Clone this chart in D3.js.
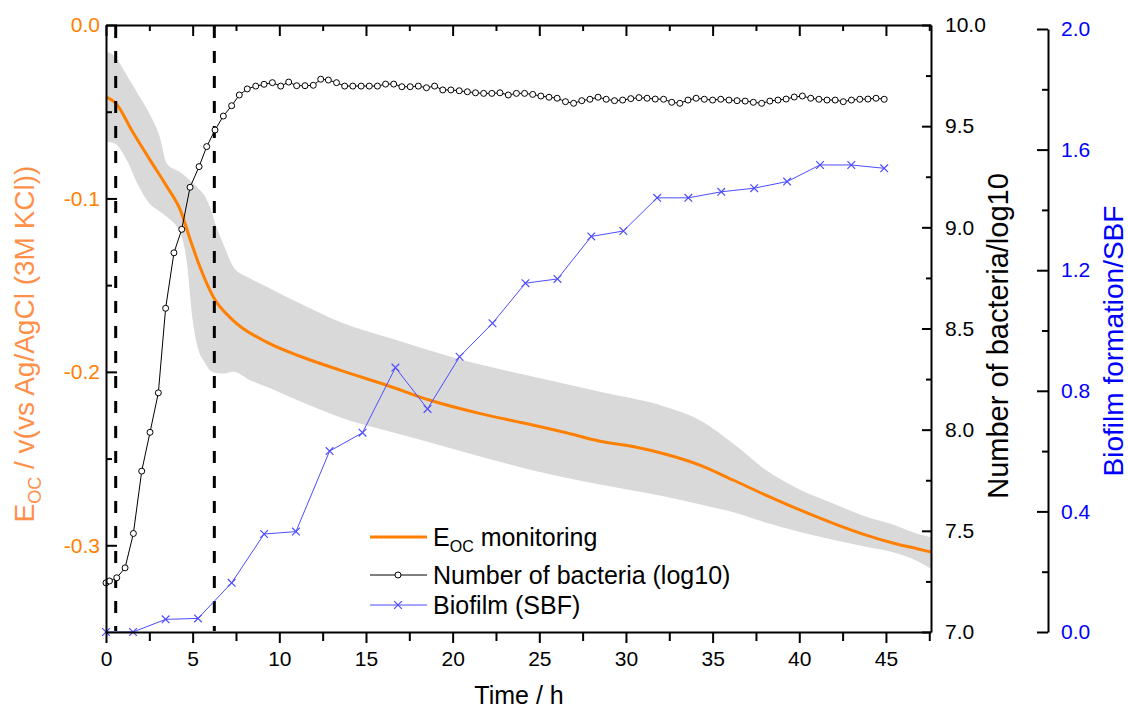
<!DOCTYPE html>
<html>
<head>
<meta charset="utf-8">
<script src="https://d3js.org/d3.v7.min.js"></script>
<style>
  body { margin: 0; background: #fff; }
  text { font-family: "Liberation Sans", Arial, sans-serif; }
</style>
</head>
<body>
<script>
// E_OC monitoring (mean curve) and its spread band
const eocTime = [0, 0.6, 1.5, 2.5, 3.5, 4.3, 4.9, 5.4, 6.2, 7.3, 9.3, 11.2, 13.5, 16.2, 18.7, 21.6,
    24.1, 26.5, 28.5, 30.4, 32.3, 34.3, 36.2, 38.1, 40.1, 42.0, 43.9, 45.4, 46.8, 47.6];
const eocMean = [-0.0414, -0.0455, -0.061, -0.0772, -0.093, -0.107, -0.125, -0.139, -0.157, -0.170,
    -0.183, -0.191, -0.199, -0.2077, -0.2164, -0.2241, -0.2295, -0.235, -0.240, -0.243, -0.2475,
    -0.2539, -0.2625, -0.2712, -0.2799, -0.2875, -0.2943, -0.2987, -0.302, -0.3039];

const bandTime = [0, 0.5, 1.2, 1.8, 2.5, 3.1, 3.5, 4.3, 4.65, 5.0, 5.4, 5.6, 6.0, 6.3, 6.8, 7.35, 8.3,
    9.3, 11.2, 13.5, 16.8, 20.6, 24.3, 28.5, 32.3, 34.3, 36.2, 38.1, 40.1, 42.0, 43.9, 45.4, 46.8, 47.6];
const bandUpper = [-0.0154, -0.018, -0.029, -0.039, -0.051, -0.0645, -0.0798, -0.085, -0.0878, -0.091,
    -0.095, -0.0971, -0.105, -0.1144, -0.127, -0.1395, -0.146, -0.151, -0.1606, -0.1712, -0.1818,
    -0.1933, -0.202, -0.2115, -0.2202, -0.228, -0.2414, -0.2568, -0.2683, -0.276, -0.2837, -0.288,
    -0.2933, -0.2953];
const bandLower = [-0.0673, -0.0683, -0.0779, -0.0913, -0.1029, -0.1075, -0.1106, -0.1202, -0.1356,
    -0.1702, -0.1894, -0.193, -0.1991, -0.2005, -0.201, -0.200, -0.2048, -0.2087, -0.217, -0.2262,
    -0.2356, -0.246, -0.256, -0.265, -0.272, -0.2765, -0.281, -0.287, -0.2925, -0.297, -0.301, -0.304,
    -0.309, -0.3135];

// Number of bacteria (log10)
const bacteriaTime = [0, 0.2, 0.62, 1.10, 1.58, 2.06, 2.54, 3.02, 3.44, 3.92, 4.37, 4.85, 5.37, 5.81,
    6.29, 6.77, 7.25, 7.69, 8.15, 8.64, 9.12, 9.60, 10.08, 10.54, 11.00, 11.48, 11.96, 12.39, 12.83,
    13.30, 13.77, 14.24, 14.72, 15.19, 15.66, 16.13, 16.60, 17.07, 17.55, 18.02, 18.49, 18.96, 19.43,
    19.90, 20.38, 20.85, 21.32, 21.79, 22.26, 22.73, 23.21, 23.68, 24.15, 24.62, 25.09, 25.56, 26.03,
    26.51, 26.98, 27.45, 27.92, 28.39, 28.86, 29.34, 29.81, 30.28, 30.75, 31.22, 31.69, 32.17, 32.64,
    33.11, 33.58, 34.05, 34.52, 35.00, 35.47, 35.94, 36.41, 36.88, 37.35, 37.83, 38.30, 38.77, 39.24,
    39.71, 40.18, 40.66, 41.13, 41.60, 42.07, 42.54, 43.01, 43.49, 43.96, 44.43, 44.90];
const bacteriaLog = [7.243, 7.252, 7.268, 7.317, 7.487, 7.795, 7.987, 8.182, 8.600, 8.874, 8.990,
    9.198, 9.300, 9.399, 9.481, 9.550, 9.601, 9.654, 9.684, 9.698, 9.707, 9.715, 9.698, 9.718, 9.700,
    9.700, 9.702, 9.732, 9.728, 9.715, 9.698, 9.698, 9.698, 9.698, 9.698, 9.708, 9.708, 9.695, 9.695,
    9.698, 9.690, 9.698, 9.679, 9.679, 9.675, 9.670, 9.665, 9.662, 9.662, 9.665, 9.654, 9.662, 9.662,
    9.657, 9.649, 9.643, 9.638, 9.621, 9.613, 9.626, 9.633, 9.643, 9.633, 9.626, 9.629, 9.636, 9.641,
    9.638, 9.634, 9.633, 9.618, 9.613, 9.629, 9.638, 9.633, 9.629, 9.633, 9.629, 9.626, 9.624, 9.618,
    9.613, 9.624, 9.629, 9.634, 9.644, 9.649, 9.638, 9.633, 9.629, 9.629, 9.621, 9.629, 9.633, 9.634,
    9.638, 9.633];

// Biofilm (SBF)
const biofilmTime = [0, 1.56, 3.44, 5.31, 7.25, 9.12, 10.96, 12.9, 14.8, 16.7, 18.55, 20.4, 22.3,
    24.2, 26.05, 28.0, 29.85, 31.8, 33.6, 35.5, 37.4, 39.3, 41.2, 43.0, 44.9];
const biofilmSBF = [0, 0, 0.042, 0.045, 0.163, 0.325, 0.333, 0.6, 0.661, 0.877, 0.74, 0.913, 1.024,
    1.157, 1.171, 1.312, 1.33, 1.44, 1.44, 1.46, 1.472, 1.494, 1.549, 1.549, 1.538];

// phase markers (h)
const phaseLines = [0.56, 6.25];

// ticks
const timeTicks = [0, 5, 10, 15, 20, 25, 30, 35, 40, 45];
const timeMinor = [2.5, 7.5, 12.5, 17.5, 22.5, 27.5, 32.5, 37.5, 42.5, 47.5];
const eocTicks = [0, -0.1, -0.2, -0.3];
const eocMinor = [-0.05, -0.15, -0.25];
const bacTicks = [7, 7.5, 8, 8.5, 9, 9.5, 10];
const bacMinor = [7.25, 7.75, 8.25, 8.75, 9.25, 9.75];
const sbfTicks = [0, 0.4, 0.8, 1.2, 1.6, 2.0];
const sbfMinor = [0.2, 0.6, 1.0, 1.4, 1.8];

const ORANGE = '#ff7f00';
const BLUE = '#0000ff';
const FONT = '"Liberation Sans", Arial, sans-serif';

const svg = d3.select('body')
    .append('svg')
    .attr('width', 1128)
    .attr('height', 716);

const x = d3.scaleLinear().domain([0, 47.6]).range([106, 931]);
const yE = d3.scaleLinear().domain([-0.35, 0]).range([632, 25]);
const yB = d3.scaleLinear().domain([7, 10]).range([632, 25]);
const yF = d3.scaleLinear().domain([0, 2]).range([632, 29]);

// grey spread band
const bandData = bandTime.map((t, i) => ({t: t, lo: bandLower[i], hi: bandUpper[i]}));
svg.append('path')
    .datum(bandData)
    .attr('fill', '#d9d9d9')
    .attr('d', d3.area()
        .curve(d3.curveMonotoneX)
        .x(d => x(d.t))
        .y0(d => yE(d.lo))
        .y1(d => yE(d.hi)));

// mean E_OC
svg.append('path')
    .datum(eocTime.map((t, i) => ({t: t, v: eocMean[i]})))
    .attr('fill', 'none')
    .attr('stroke', ORANGE)
    .attr('stroke-width', 3)
    .attr('d', d3.line().curve(d3.curveMonotoneX).x(d => x(d.t)).y(d => yE(d.v)));

// dashed phase lines
svg.selectAll('.phase')
    .data(phaseLines)
    .enter()
    .append('line')
    .attr('x1', d => x(d))
    .attr('x2', d => x(d))
    .attr('y1', 26)
    .attr('y2', 631)
    .attr('stroke', '#000')
    .attr('stroke-width', 3)
    .attr('stroke-dasharray', '12,13');

// bacteria
const bac = bacteriaTime.map((t, i) => ({t: t, v: bacteriaLog[i]}));
svg.append('path')
    .datum(bac)
    .attr('fill', 'none')
    .attr('stroke', '#000')
    .attr('stroke-width', 1)
    .attr('d', d3.line().x(d => x(d.t)).y(d => yB(d.v)));
svg.selectAll('.bac')
    .data(bac)
    .enter()
    .append('circle')
    .attr('cx', d => x(d.t))
    .attr('cy', d => yB(d.v))
    .attr('r', 3)
    .attr('fill', '#fff')
    .attr('stroke', '#000')
    .attr('stroke-width', 1);

// biofilm
const bio = biofilmTime.map((t, i) => ({t: t, v: biofilmSBF[i]}));
const BIO_LINE = '#4d4dff';
svg.append('path')
    .datum(bio)
    .attr('fill', 'none')
    .attr('stroke', BIO_LINE)
    .attr('stroke-width', 1)
    .attr('d', d3.line().x(d => x(d.t)).y(d => yF(d.v)));
const cross = d3.symbol().type(d3.symbolX).size(40);
svg.selectAll('.bio')
    .data(bio)
    .enter()
    .append('path')
    .attr('transform', d => 'translate(' + x(d.t) + ',' + yF(d.v) + ')')
    .attr('d', cross)
    .attr('fill', 'none')
    .attr('stroke', BIO_LINE)
    .attr('stroke-width', 1.2);

// axes
function styleAxis(g, color) {
    g.attr('font-family', FONT).attr('font-size', 21);
    g.selectAll('path, line').attr('stroke', '#000').attr('stroke-width', 2);
    g.selectAll('text').attr('fill', color);
}

const fmt1 = d => d.toFixed(1);

// left E_OC axis, ticks pointing inward
svg.append('g')
    .attr('transform', 'translate(106,0)')
    .call(d3.axisLeft(yE).tickValues(eocTicks).tickFormat(fmt1).tickSizeInner(-11).tickSizeOuter(0).tickPadding(6))
    .call(g => styleAxis(g, ORANGE));
svg.append('g')
    .attr('transform', 'translate(106,0)')
    .call(d3.axisLeft(yE).tickValues(eocMinor).tickFormat('').tickSizeInner(-6).tickSizeOuter(0))
    .call(g => styleAxis(g, ORANGE))
    .select('.domain').remove();

// bottom time axis, ticks outward
svg.append('g')
    .attr('transform', 'translate(0,632)')
    .call(d3.axisBottom(x).tickValues(timeTicks).tickFormat(d3.format('d')).tickSizeInner(11).tickSizeOuter(0).tickPadding(8))
    .call(g => styleAxis(g, '#000'));
svg.append('g')
    .attr('transform', 'translate(0,632)')
    .call(d3.axisBottom(x).tickValues(timeMinor).tickFormat('').tickSizeInner(9).tickSizeOuter(0))
    .call(g => styleAxis(g, '#000'))
    .select('.domain').remove();

// top frame, ticks inward
svg.append('g')
    .attr('transform', 'translate(0,25)')
    .call(d3.axisTop(x).tickValues(timeTicks).tickFormat('').tickSizeInner(-11).tickSizeOuter(0))
    .call(g => styleAxis(g, '#000'));
svg.append('g')
    .attr('transform', 'translate(0,25)')
    .call(d3.axisTop(x).tickValues(timeMinor).tickFormat('').tickSizeInner(-6).tickSizeOuter(0))
    .call(g => styleAxis(g, '#000'))
    .select('.domain').remove();

// right bacteria axis, ticks inward
svg.append('g')
    .attr('transform', 'translate(931,0)')
    .call(d3.axisRight(yB).tickValues(bacTicks).tickFormat(fmt1).tickSizeInner(-9).tickSizeOuter(0).tickPadding(14))
    .call(g => styleAxis(g, '#000'));
svg.append('g')
    .attr('transform', 'translate(931,0)')
    .call(d3.axisRight(yB).tickValues(bacMinor).tickFormat('').tickSizeInner(-5).tickSizeOuter(0))
    .call(g => styleAxis(g, '#000'))
    .select('.domain').remove();

// offset biofilm axis
svg.append('g')
    .attr('transform', 'translate(1048,0)')
    .call(d3.axisRight(yF).tickValues(sbfTicks).tickFormat(fmt1).tickSizeInner(-11).tickSizeOuter(0).tickPadding(13))
    .call(g => styleAxis(g, BLUE));
svg.append('g')
    .attr('transform', 'translate(1048,0)')
    .call(d3.axisRight(yF).tickValues(sbfMinor).tickFormat('').tickSizeInner(-6).tickSizeOuter(0))
    .call(g => styleAxis(g, BLUE))
    .select('.domain').remove();

// axis titles
svg.append('text')
    .attr('x', 519)
    .attr('y', 704)
    .attr('text-anchor', 'middle')
    .attr('font-size', 25)
    .attr('fill', '#000')
    .text('Time / h');

const leftTitle = svg.append('text')
    .attr('transform', 'translate(34,344) rotate(-90)')
    .attr('text-anchor', 'middle')
    .attr('font-size', 28)
    .attr('fill', '#ff904a');
leftTitle.append('tspan').text('E');
leftTitle.append('tspan').attr('font-size', 18).attr('dy', 7).text('OC');
leftTitle.append('tspan').attr('dy', -7).text(' / v(vs Ag/AgCl (3M KCl))');

svg.append('text')
    .attr('transform', 'translate(1008,336) rotate(-90)')
    .attr('text-anchor', 'middle')
    .attr('font-size', 29)
    .attr('fill', '#000')
    .text('Number of bacteria/log10');

svg.append('text')
    .attr('transform', 'translate(1123,341) rotate(-90)')
    .attr('text-anchor', 'middle')
    .attr('font-size', 28)
    .attr('fill', BLUE)
    .text('Biofilm formation/SBF');

// legend
const legend = svg.append('g').attr('font-size', 25);
const legendRows = [537, 575, 605];

legend.append('line')
    .attr('x1', 370).attr('x2', 427)
    .attr('y1', legendRows[0]).attr('y2', legendRows[0])
    .attr('stroke', ORANGE).attr('stroke-width', 3);
const eocLabel = legend.append('text')
    .attr('x', 433).attr('y', legendRows[0]).attr('dy', '0.35em');
eocLabel.append('tspan').text('E');
eocLabel.append('tspan').attr('font-size', 16).attr('dy', 6).text('OC');
eocLabel.append('tspan').attr('dy', -6).text(' monitoring');

legend.append('line')
    .attr('x1', 370).attr('x2', 427)
    .attr('y1', legendRows[1]).attr('y2', legendRows[1])
    .attr('stroke', '#000').attr('stroke-width', 1);
legend.append('circle')
    .attr('cx', 398).attr('cy', legendRows[1]).attr('r', 3)
    .attr('fill', '#fff').attr('stroke', '#000');
legend.append('text')
    .attr('x', 433).attr('y', legendRows[1]).attr('dy', '0.35em')
    .text('Number of bacteria (log10)');

legend.append('line')
    .attr('x1', 370).attr('x2', 427)
    .attr('y1', legendRows[2]).attr('y2', legendRows[2])
    .attr('stroke', BIO_LINE).attr('stroke-width', 1);
legend.append('path')
    .attr('transform', 'translate(398,' + legendRows[2] + ')')
    .attr('d', cross)
    .attr('fill', 'none')
    .attr('stroke', BIO_LINE)
    .attr('stroke-width', 1.2);
legend.append('text')
    .attr('x', 433).attr('y', legendRows[2]).attr('dy', '0.35em')
    .text('Biofilm (SBF)');
</script>
</body>
</html>
